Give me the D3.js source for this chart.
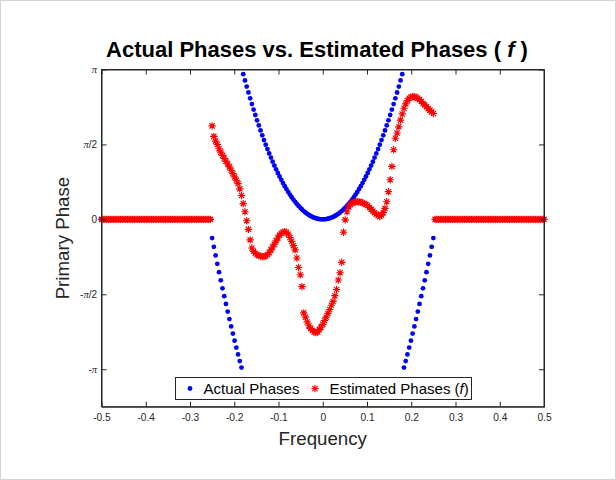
<!DOCTYPE html>
<html><head><meta charset="utf-8">
<script src="https://cdn.jsdelivr.net/npm/d3@7"></script>
<style>body{margin:0;background:#fff}svg{display:block}</style>
</head><body><div id="chart"></div>
<script>
// sampling grid: k/256 for k=-128..128
const freqIndex = d3.range(-128, 129);
const frequencies = freqIndex.map(k => k / 256);

// Actual phases (blue)
const actualPhase = [
0,0,0,0,0,0,0,0,0,0,0,0,0,0,0,0,0,0,0,0,0,0,0,0,0,0,0,0,0,0,0,0,
0,0,0,0,0,0,0,0,0,0,0,0,0,0,0,0,0,0,0,0,0,0,0,0,0,0,0,0,0,0,0,0,
-0.3927,-0.5753,-0.7551,-0.9320,-1.1060,-1.2771,-1.4454,-1.6108,-1.7733,-1.9329,-2.0897,-2.2436,-2.3946,-2.5427,-2.6879,-2.8303,-2.9698,-3.1064,
3.0430,2.9122,2.7842,2.6591,2.5368,2.4175,2.3010,2.1874,2.0766,1.9688,1.8638,1.7617,1.6624,1.5661,1.4726,1.3820,1.2943,1.2094,1.1275,1.0484,0.9722,0.8988,0.8283,0.7608,0.6960,0.6342,0.5752,0.5192,0.4659,0.4156,0.3682,0.3236,0.2819,0.2430,0.2071,0.1740,0.1438,0.1165,0.0920,0.0705,0.0518,0.0360,0.0230,0.0129,0.0058,0.0014,
0,
0.0014,0.0058,0.0129,0.0230,0.0360,0.0518,0.0705,0.0920,0.1165,0.1438,0.1740,0.2071,0.2430,0.2819,0.3236,0.3682,0.4156,0.4659,0.5192,0.5752,0.6342,0.6960,0.7608,0.8283,0.8988,0.9722,1.0484,1.1275,1.2094,1.2943,1.3820,1.4726,1.5661,1.6624,1.7617,1.8638,1.9688,2.0766,2.1874,2.3010,2.4175,2.5368,2.6591,2.7842,2.9122,3.0430,
-3.1064,-2.9698,-2.8303,-2.6879,-2.5427,-2.3946,-2.2436,-2.0897,-1.9329,-1.7733,-1.6108,-1.4454,-1.2771,-1.1060,-0.9320,-0.7551,-0.5753,-0.3927,
0,0,0,0,0,0,0,0,0,0,0,0,0,0,0,0,0,0,0,0,0,0,0,0,0,0,0,0,0,0,0,0,
0,0,0,0,0,0,0,0,0,0,0,0,0,0,0,0,0,0,0,0,0,0,0,0,0,0,0,0,0,0,0,0
];

// Estimated phases (red)
const estimatedPhase = [
0,0,0,0,0,0,0,0,0,0,0,0,0,0,0,0,0,0,0,0,0,0,0,0,0,0,0,0,0,0,0,0,
0,0,0,0,0,0,0,0,0,0,0,0,0,0,0,0,0,0,0,0,0,0,0,0,0,0,0,0,0,0,0,0,
1.96,1.74,1.64,1.57,1.48,1.41,1.34,1.28,1.22,1.16,1.10,1.03,0.96,0.89,0.82,0.75,
0.64,0.50,0.33,0.16,-0.03,-0.21,-0.43,-0.60,-0.67,-0.71,-0.74,-0.76,-0.77,-0.78,-0.78,-0.77,
-0.74,-0.70,-0.64,-0.58,-0.52,-0.45,-0.39,-0.33,-0.29,-0.27,-0.26,-0.27,-0.31,-0.38,-0.46,-0.55,
-0.64,-0.81,-1.01,-1.16,-1.41,-1.96,-2.05,-2.15,-2.23,-2.29,-2.33,-2.36,-2.37,-2.36,-2.31,-2.26,
-2.20,
-2.12,-2.05,-1.97,-1.89,-1.80,-1.72,-1.60,-1.47,-1.27,-1.12,-0.90,-0.27,-0.01,0.16,0.26,0.31,
0.34,0.36,0.37,0.37,0.37,0.36,0.35,0.33,0.31,0.29,0.25,0.21,0.17,0.14,0.11,0.08,
0.06,0.09,0.14,0.23,0.37,0.58,0.83,1.11,1.46,1.70,1.81,1.94,2.08,2.21,2.33,2.42,
2.49,2.54,2.56,2.57,2.57,2.56,2.54,2.51,2.47,2.43,2.40,2.36,2.32,2.29,2.25,2.22,
0,0,0,0,0,0,0,0,0,0,0,0,0,0,0,0,0,0,0,0,0,0,0,0,0,0,0,0,0,0,0,0,
0,0,0,0,0,0,0,0,0,0,0,0,0,0,0,0,0,0,0,0,0,0,0,0,0,0,0,0,0,0,0,0
];

const xTicks = [-0.5,-0.4,-0.3,-0.2,-0.1,0,0.1,0.2,0.3,0.4,0.5];
const xTickLabels = ["-0.5","-0.4","-0.3","-0.2","-0.1","0","0.1","0.2","0.3","0.4","0.5"];
const yTicks = [-Math.PI, -Math.PI/2, 0, Math.PI/2, Math.PI];
const yTickLabels = ["-π","-π/2","0","π/2","π"];
const seriesNames = ["Actual Phases", "Estimated Phases"];

const W = 616, H = 480;
const L = 101.5, R = 544, T = 69.5, B = 406.7;
const axisColor = "#262626";
const font = "'Liberation Sans', Arial, sans-serif";

const svg = d3.select("#chart").append("svg").attr("width", W).attr("height", H);
svg.append("rect").attr("x",0.5).attr("y",0.5).attr("width",W-1).attr("height",H-1)
  .attr("fill","#fff").attr("stroke","#d4d4d4");

const x = d3.scaleLinear().domain([-0.5, 0.5]).range([L, R]);
const y = d3.scaleLinear().domain([-1.25*Math.PI, Math.PI]).range([B, T]);

const data = frequencies.map((f,i) => ({f, a: actualPhase[i], e: estimatedPhase[i]}));

svg.append("defs").append("clipPath").attr("id","clip")
  .append("rect").attr("x",L-6).attr("y",T-6).attr("width",R-L+12).attr("height",B-T+12);

const plot = svg.append("g").attr("clip-path","url(#clip)");
plot.selectAll("circle.a").data(data).join("circle").attr("class","a")
  .attr("cx", d => x(d.f)).attr("cy", d => y(d.a)).attr("r", 2.4).attr("fill", "#0000ff");

const r = 3.7, dd = r*0.7071;
const starPath = `M${-r},0L${r},0M0,${-r}L0,${r}M${-dd},${-dd}L${dd},${dd}M${-dd},${dd}L${dd},${-dd}`;
plot.selectAll("path.e").data(data).join("path").attr("class","e")
  .attr("transform", d => `translate(${x(d.f)},${y(d.e)})`)
  .attr("d", starPath).attr("stroke", "#ff0000").attr("stroke-width", 1.15).attr("fill","none");

// axes
const gx = svg.append("g").attr("transform", `translate(0,${B})`)
  .call(d3.axisBottom(x).tickValues(xTicks).tickFormat((d,i)=>xTickLabels[i]).tickSizeInner(-5).tickSizeOuter(0).tickPadding(7.3));
const gxt = svg.append("g").attr("transform", `translate(0,${T})`)
  .call(d3.axisTop(x).tickValues(xTicks).tickFormat("").tickSizeInner(-5).tickSizeOuter(0));
const gy = svg.append("g").attr("transform", `translate(${L},0)`)
  .call(d3.axisLeft(y).tickValues(yTicks).tickFormat((d,i)=>yTickLabels[i]).tickSizeInner(-5).tickSizeOuter(0).tickPadding(4.5));
const gyr = svg.append("g").attr("transform", `translate(${R},0)`)
  .call(d3.axisRight(y).tickValues(yTicks).tickFormat("").tickSizeInner(-5).tickSizeOuter(0));
[gx,gxt,gy,gyr].forEach(g => {
  g.select(".domain").attr("stroke", axisColor);
  g.selectAll(".tick line").attr("stroke", axisColor);
  g.selectAll("text").attr("fill", axisColor).attr("font-family", font);
});
gx.selectAll("text").attr("font-size", 10.2);
gy.selectAll("text").attr("font-size", 10).each(function(d,i){
  const t = d3.select(this); const s = yTickLabels[i]; t.text(null);
  for (const ch of s) {
    const sp = t.append("tspan").text(ch);
    if (ch === "π") sp.attr("font-family","'Liberation Serif', serif").attr("font-style","italic").attr("font-size",10.5);
  }
});
svg.append("rect").attr("x",L).attr("y",T).attr("width",R-L).attr("height",B-T)
  .attr("fill","none").attr("stroke",axisColor).attr("stroke-width",1);

// title
const title = svg.append("text").attr("x", 317).attr("y", 57).attr("text-anchor","middle")
  .attr("font-family", font).attr("font-weight","bold").attr("font-size", 22).attr("fill","#000");
title.append("tspan").text("Actual Phases vs. Estimated Phases ( ");
title.append("tspan").attr("font-style","italic").text("f");
title.append("tspan").text(" )");

// axis labels
svg.append("text").attr("x", (L+R)/2).attr("y", 445).attr("text-anchor","middle")
  .attr("font-family", font).attr("font-size", 18.7).attr("fill", axisColor).text("Frequency");
svg.append("text").attr("transform", `translate(69,${(T+B)/2}) rotate(-90)`).attr("text-anchor","middle")
  .attr("font-family", font).attr("font-size", 18.7).attr("fill", axisColor).text("Primary Phase");

// legend
const lg = svg.append("g");
lg.append("rect").attr("x",175.5).attr("y",377.5).attr("width",296).attr("height",22)
  .attr("fill","#fff").attr("stroke",axisColor).attr("stroke-width",1);
lg.append("circle").attr("cx",190).attr("cy",388.5).attr("r",2.4).attr("fill","#0000ff");
lg.append("text").attr("x",203.5).attr("y",394.3).attr("font-family",font).attr("font-size",15).attr("fill","#000").text(seriesNames[0]);
lg.append("path").attr("transform","translate(315,388.5)").attr("d",starPath).attr("stroke","#ff0000").attr("stroke-width",1.15).attr("fill","none");
const lt = lg.append("text").attr("x",329.5).attr("y",394.3).attr("font-family",font).attr("font-size",15).attr("fill","#000");
lt.append("tspan").text(seriesNames[1] + " (");
lt.append("tspan").attr("font-style","italic").text("f");
lt.append("tspan").text(")");
</script></body></html>
